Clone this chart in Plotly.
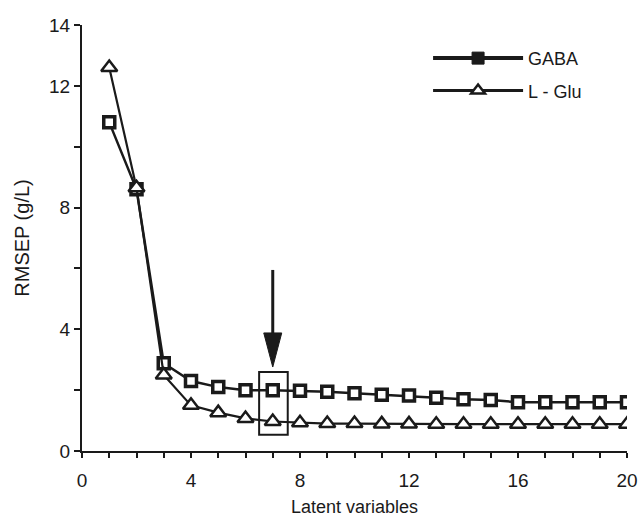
import plotly.graph_objects as go

latent = list(range(1, 21))
gaba = [10.8, 8.6, 2.88, 2.3, 2.1, 2.0, 2.0, 1.98, 1.95, 1.9, 1.85, 1.82, 1.75, 1.7, 1.68, 1.6, 1.6, 1.6, 1.6, 1.6]
lglu = [12.6, 8.65, 2.5, 1.5, 1.26, 1.07, 0.97, 0.93, 0.9, 0.9, 0.89, 0.89, 0.88, 0.88, 0.88, 0.88, 0.88, 0.88, 0.88, 0.88]

x_ticks = list(range(0, 21))
x_labels = [str(v) if v % 4 == 0 else "" for v in x_ticks]
y_ticks = [0, 2, 4, 6, 8, 10, 12, 14]
y_labels = ["0", "", "4", "", "8", "", "12", "14"]

# highlighted model size and arrow
sel_x = 7
box_y = [0.53, 2.6]
arrow_y = [5.95, 2.76]

font = "Liberation Sans, Arial, sans-serif"
ink = "#1a1a1a"

fig = go.Figure()
fig.add_trace(go.Scatter(
    x=latent, y=gaba, mode="lines+markers", showlegend=False,
    line=dict(color=ink, width=2.5),
    marker=dict(symbol="square", size=11, color="white", line=dict(color=ink, width=3.5)),
))
fig.add_trace(go.Scatter(
    x=latent, y=lglu, mode="lines+markers", showlegend=False,
    line=dict(color=ink, width=2.2),
    marker=dict(symbol="triangle-up", size=14, color="white", line=dict(color=ink, width=2.5)),
))
# legend-only entries
fig.add_trace(go.Scatter(
    x=[None], y=[None], mode="lines+markers", name="GABA", legendgroup="a",
    line=dict(color=ink, width=4),
    marker=dict(symbol="square", size=12, color=ink, line=dict(color=ink, width=1)),
))
fig.add_trace(go.Scatter(
    x=[None], y=[None], mode="lines+markers", name="L - Glu", legendgroup="b",
    line=dict(color=ink, width=3),
    marker=dict(symbol="triangle-up", size=12, color="white", line=dict(color=ink, width=2.5)),
))

fig.add_shape(type="rect", xref="x", yref="y", x0=sel_x - 0.5, x1=sel_x + 0.55,
              y0=box_y[0], y1=box_y[1], line=dict(color=ink, width=2))
head_len = 1.12
head_half = 0.33
fig.add_shape(type="line", xref="x", yref="y", x0=sel_x, x1=sel_x,
              y0=arrow_y[0], y1=arrow_y[1] + head_len - 0.1, line=dict(color=ink, width=3))
fig.add_shape(type="path", xref="x", yref="y",
              path=f"M {sel_x - head_half},{arrow_y[1] + head_len} L {sel_x + head_half},{arrow_y[1] + head_len} L {sel_x},{arrow_y[1]} Z",
              fillcolor=ink, line=dict(color=ink, width=1))

fig.update_layout(
    width=640, height=517,
    margin=dict(l=82, r=13, t=25, b=66),
    paper_bgcolor="white", plot_bgcolor="white",
    font=dict(family=font, size=18, color=ink),
    showlegend=True,
    legend=dict(x=0.635, y=0.965, xanchor="left", yanchor="top", bgcolor="rgba(0,0,0,0)",
                font=dict(size=18), itemwidth=90, tracegroupgap=6),
)
fig.update_xaxes(
    range=[0, 20], tickvals=x_ticks, ticktext=x_labels, ticks="outside", ticklen=5,
    tickwidth=2, tickcolor=ink, showline=True, linecolor=ink, linewidth=2,
    showgrid=False, zeroline=False, ticklabelstandoff=6, automargin=False,
    title=dict(text="Latent variables", font=dict(size=18), standoff=12),
    tickfont=dict(size=19),
)
fig.update_yaxes(
    range=[0, 14], tickvals=y_ticks, ticktext=y_labels, ticks="outside", ticklen=6,
    tickwidth=2, tickcolor=ink, showline=True, linecolor=ink, linewidth=2,
    showgrid=False, zeroline=False, automargin=False,
    title=dict(text="RMSEP (g/L)", font=dict(size=20), standoff=14),
    tickfont=dict(size=19),
)

fig.write_html("out.html", config={"displayModeBar": False},
               post_script="document.body.style.margin='0';")
